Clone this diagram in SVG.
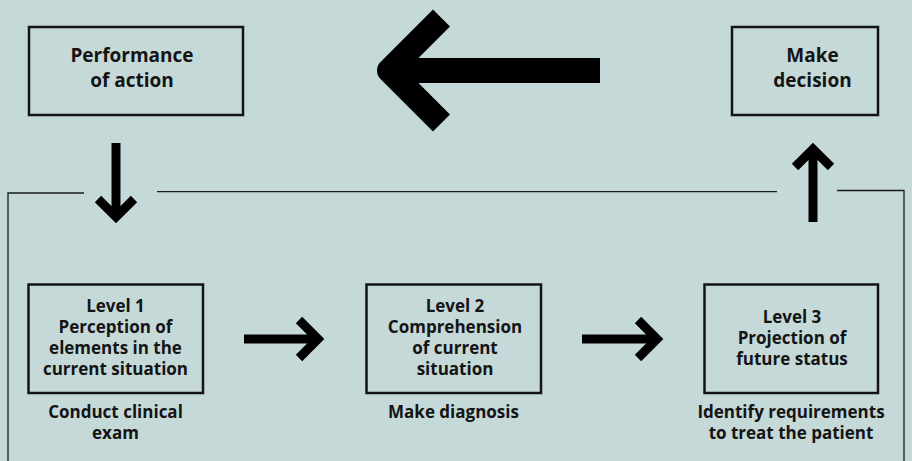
<svg xmlns="http://www.w3.org/2000/svg" width="912" height="461" viewBox="0 0 912 461">
<style>
  .box { fill: none; stroke: #141414; stroke-width: 2.5; }
  .t { font-family: "Open Sans", "Noto Sans", "Liberation Sans", sans-serif; font-weight: 700; fill: #141414; text-anchor: middle; }
  .big { font-size: 19px; }
  .mid { font-size: 17px; }
  .frame { fill: none; stroke: #1a1a1a; stroke-width: 1.3; }
  .arr { fill: none; stroke: #000; stroke-width: 9; stroke-linejoin: miter; stroke-miterlimit: 4; }
</style>
<rect x="0" y="0" width="912" height="461" fill="#c5d9d8"/>

<g id="connectors">
  <polyline class="frame" points="8,462 8,193 84,193"/>
  <line class="frame" x1="157" y1="191.7" x2="777" y2="191.7"/>
  <polyline class="frame" points="837,190.5 904,190.5 904,462"/>
  <!-- big left arrow -->
  <line x1="600" y1="70.5" x2="392" y2="70.5" stroke="#000" stroke-width="25"/>
  <polyline points="441.5,18 389,70.5 441.5,123" fill="none" stroke="#000" stroke-width="24" stroke-linejoin="round"/>
  <!-- down arrow -->
  <line class="arr" x1="116" y1="143" x2="116" y2="215"/>
  <polyline class="arr" points="98,199 116,217 134,199"/>
  <!-- up arrow -->
  <line class="arr" x1="813" y1="222" x2="813" y2="151"/>
  <polyline class="arr" points="795,167 813,149 831,167"/>
  <!-- right arrows -->
  <line class="arr" x1="244" y1="339" x2="316" y2="339"/>
  <polyline class="arr" points="299,320 318,339 299,358"/>
  <line class="arr" x1="582" y1="339" x2="655" y2="339"/>
  <polyline class="arr" points="638,320 657,339 638,358"/>
</g>

<g id="performance">
  <rect class="box" x="29" y="27" width="214" height="88"/>
  <text class="t big" x="132" y="62">Performance</text>
  <text class="t big" x="132" y="87">of action</text>
</g>

<g id="decision">
  <rect class="box" x="732" y="27" width="146" height="88"/>
  <text class="t big" x="812.5" y="62">Make</text>
  <text class="t big" x="812.5" y="87">decision</text>
</g>

<g id="level1">
  <rect class="box" x="28.5" y="284.5" width="174.5" height="108.5"/>
  <text class="t mid" x="115.5" y="312">Level 1</text>
  <text class="t mid" x="115.5" y="333">Perception of</text>
  <text class="t mid" x="115.5" y="354">elements in the</text>
  <text class="t mid" x="115.5" y="375">current situation</text>
  <text class="t mid" x="115.5" y="418">Conduct clinical</text>
  <text class="t mid" x="115.5" y="439">exam</text>
</g>

<g id="level2">
  <rect class="box" x="366.5" y="284.5" width="174.5" height="108.5"/>
  <text class="t mid" x="455" y="312">Level 2</text>
  <text class="t mid" x="455" y="333">Comprehension</text>
  <text class="t mid" x="455" y="354">of current</text>
  <text class="t mid" x="455" y="375">situation</text>
  <text class="t mid" x="453.5" y="418">Make diagnosis</text>
</g>

<g id="level3">
  <rect class="box" x="704.5" y="284.5" width="173.5" height="108.5"/>
  <text class="t mid" x="792" y="323">Level 3</text>
  <text class="t mid" x="792" y="344">Projection of</text>
  <text class="t mid" x="792" y="365">future status</text>
  <text class="t mid" x="791" y="418">Identify requirements</text>
  <text class="t mid" x="791" y="439">to treat the patient</text>
</g>
</svg>
